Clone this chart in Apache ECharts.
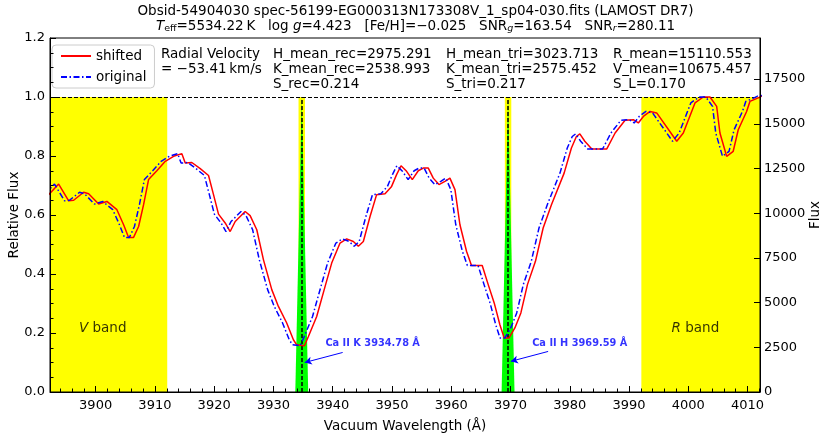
<!DOCTYPE html>
<html><head><meta charset="utf-8">
<script src="https://cdn.jsdelivr.net/npm/echarts@6/dist/echarts.min.js"></script>
<style>html,body{margin:0;padding:0;background:#fff}#c{width:831px;height:440px}</style>
</head><body><div id="c"></div>
<script>
// ---- data ----
const waveShifted = [3892.08,3893.76,3895.45,3896.29,3897.98,3898.82,3900.51,3901.90,3903.59,3904.72,
3905.56,3906.40,3907.25,3908.09,3908.93,3910.33,3911.75,3913.15,3914.55,3915.12,
3916.23,3917.65,3919.05,3919.89,3920.73,3921.86,3922.70,3923.55,3925.23,3926.07,
3927.19,3928.32,3929.72,3930.84,3932.24,3933.37,3933.93,3935.23,3935.90,3937.30,
3938.72,3939.83,3941.24,3942.36,3943.49,3944.33,3945.17,3946.30,3947.41,3948.83,
3949.94,3950.78,3951.53,3952.47,3953.43,3954.44,3955.28,3956.13,3956.97,3957.93,
3958.94,3959.78,3960.63,3961.47,3962.58,3963.42,3965.23,3966.24,3967.25,3968.21,
3968.94,3969.73,3970.74,3971.75,3972.86,3974.21,3975.51,3976.91,3979.05,3980.28,
3981.12,3981.70,3982.54,3983.72,3986.25,3987.65,3989.33,3990.73,3991.57,3992.42,
3993.55,3994.67,3998.05,3999.16,4001.13,4002.53,4003.66,4004.79,4005.34,4006.47,
4007.58,4008.43,4009.84,4010.40,4011.80,4012.40,4013.20];
const waveOriginal = [3891.38,3893.06,3894.75,3895.59,3897.28,3898.12,3899.81,3901.20,3902.89,3904.02,
3904.86,3905.70,3906.55,3907.39,3908.23,3909.63,3911.05,3912.45,3913.85,3914.42,
3915.53,3916.95,3918.35,3919.19,3920.03,3921.16,3922.00,3922.85,3924.53,3925.37,
3926.49,3927.62,3929.02,3930.14,3931.54,3932.67,3933.23,3934.53,3935.20,3936.60,
3938.02,3939.13,3940.54,3941.66,3942.79,3943.63,3944.47,3945.60,3946.71,3948.13,
3949.24,3950.08,3950.83,3951.77,3952.73,3953.74,3954.58,3955.43,3956.27,3957.23,
3958.24,3959.08,3959.93,3960.77,3961.88,3962.72,3964.53,3965.54,3966.55,3967.51,
3968.24,3969.03,3970.04,3971.05,3972.16,3973.51,3974.81,3976.21,3978.35,3979.58,
3980.42,3981.00,3981.84,3983.02,3985.55,3986.95,3988.63,3990.03,3990.87,3991.72,
3992.85,3993.97,3997.35,3998.46,4000.43,4001.83,4002.96,4004.09,4004.64,4005.77,
4006.88,4007.73,4009.14,4009.70,4011.10,4011.70,4012.50];
const fluxNorm = [0.669,0.705,0.648,0.650,0.677,0.672,0.637,0.646,0.618,0.567,
0.524,0.524,0.561,0.635,0.720,0.750,0.782,0.799,0.808,0.776,
0.778,0.757,0.734,0.669,0.603,0.573,0.544,0.578,0.612,0.598,
0.550,0.448,0.347,0.290,0.234,0.177,0.160,0.157,0.188,0.256,
0.358,0.437,0.505,0.519,0.510,0.494,0.510,0.595,0.669,0.672,
0.697,0.737,0.767,0.748,0.720,0.750,0.759,0.759,0.725,0.703,
0.714,0.725,0.686,0.567,0.477,0.429,0.429,0.364,0.302,0.228,
0.183,0.183,0.217,0.268,0.364,0.443,0.556,0.635,0.742,0.827,
0.866,0.875,0.850,0.824,0.824,0.878,0.921,0.923,0.912,0.934,
0.951,0.946,0.850,0.878,0.980,1.000,1.000,0.968,0.878,0.799,
0.816,0.889,0.951,0.985,0.997,1.003,1.005];

const xRange = [3892.3, 4012.1];
const yRange = [0, 1.2];
const yStep = 0.2;
const fluxRange = [0, 19800];
const fluxStep = 2500;
const vBand = [3892.08, 3912.08];
const rBand = [3992.08, 4012.2];
const lineCenters = [3934.78, 3969.59];
const lineFWHM = 1.09;
const lineLabels = ['Ca II K 3934.78 Å', 'Ca II H 3969.59 Å'];
const lineLabelPos = [[3938.77, 0.163], [3973.66, 0.163]];
const arrowFrom = [[3941.68, 0.134], [3976.35, 0.1375]];
const arrowTo = [[3935.28, 0.100], [3970.07, 0.104]];
const bandNames = ['V', 'R'];
const bandLabelPos = [[3901.2, 0.215], [4001.2, 0.215]];
const titleLine1 = 'Obsid-54904030 spec-56199-EG000313N173308V_1_sp04-030.fits (LAMOST DR7)';
const statColumns = [
  'Radial Velocity\n= −53.41\u2009km/s',
  'H_mean_rec=2975.291\nK_mean_rec=2538.993\nS_rec=0.214',
  'H_mean_tri=3023.713\nK_mean_tri=2575.452\nS_tri=0.217',
  'R_mean=15110.553\nV_mean=10675.457\nS_L=0.170'
];
const statColumnX = [161, 273, 446, 613];

// ---- chart ----
const FONT = '"DejaVu Sans", sans-serif';
const FS = 13.5;
const chart = echarts.init(document.getElementById('c'));

const shiftedData = waveShifted.map((w, i) => [w, fluxNorm[i]]);
const originalData = waveOriginal.map((w, i) => [w, fluxNorm[i]]);

const triSeries = lineCenters.map(c => ({
  type: 'line', silent: true, z: 2, symbol: 'none',
  data: [[c - lineFWHM, 0], [c, 1], [c + lineFWHM, 0]],
  lineStyle: { width: 0, color: '#00ff00' },
  areaStyle: { color: '#00ff00', opacity: 1 }
}));

const option = {
  animation: false,
  backgroundColor: '#fff',
  title: {
    left: 'center', top: 4, padding: 0,
    text: titleLine1 + '\n{i|T}{s|eff}=5534.22\u2009K   log {i|g}=4.423   [Fe/H]=−0.025   SNR{si|g}=163.54   SNR{si|r}=280.11',
    textStyle: {
      fontFamily: FONT, fontSize: FS, fontWeight: 'normal', color: '#000', lineHeight: 15,
      rich: {
        i: { fontFamily: FONT, fontSize: FS, fontStyle: 'italic', color: '#000', lineHeight: 15 },
        s: { fontFamily: FONT, fontSize: 9.5, color: '#000', verticalAlign: 'bottom', lineHeight: 7 },
        si: { fontFamily: FONT, fontSize: 9.5, fontStyle: 'italic', color: '#000', verticalAlign: 'bottom', lineHeight: 7 }
      }
    }
  },
  legend: {
    left: 52, top: 45, orient: 'vertical',
    data: ['shifted', 'original'],
    itemWidth: 30, itemHeight: 14, itemGap: 7,
    padding: [4, 8, 4, 8],
    itemStyle: { opacity: 0, borderWidth: 0 },
    backgroundColor: '#fff', borderColor: '#cccccc', borderWidth: 1, borderRadius: 4,
    textStyle: { fontFamily: FONT, fontSize: FS, color: '#000' }
  },
  graphic: statColumns.map((t, i) => ({
    type: 'text', x: statColumnX[i], y: 47, z: 100,
    style: { text: t, fontFamily: FONT, fontSize: FS, lineHeight: 15, fill: '#000', verticalAlign: 'top' }
  })),
  grid: { left: 50, right: 71, top: 38, bottom: 48, outerBoundsMode: 'none', containLabel: false, show: true, borderColor: '#000', borderWidth: 1, backgroundColor: 'transparent', z: 10 },
  xAxis: {
    type: 'value', min: xRange[0], max: xRange[1], splitNumber: 12, z: 10,
    name: 'Vacuum Wavelength (Å)', nameLocation: 'middle', nameGap: 27,
    nameTextStyle: { fontFamily: FONT, fontSize: FS, color: '#000' },
    axisLine: { show: true, lineStyle: { color: '#000', width: 1 } },
    axisTick: { show: true, inside: true, length: 6, lineStyle: { color: '#000' } },
    minorTick: { show: true, splitNumber: 5, length: 3.5, lineStyle: { color: '#000' } },
    axisLabel: { fontFamily: FONT, fontSize: 13, color: '#000', margin: 7, showMinLabel: false, showMaxLabel: false, formatter: v => String(v) },
    splitLine: { show: false }, minorSplitLine: { show: false }
  },
  yAxis: [{
    type: 'value', min: yRange[0], max: yRange[1], interval: yStep, z: 10,
    name: 'Relative Flux', nameLocation: 'middle', nameGap: 29, nameRotate: 90, nameMoveOverlap: false,
    nameTextStyle: { fontFamily: FONT, fontSize: FS, color: '#000' },
    axisLine: { show: true, lineStyle: { color: '#000', width: 1 } },
    axisTick: { show: true, inside: true, length: 6, lineStyle: { color: '#000' } },
    minorTick: { show: true, splitNumber: 4, length: 3.5, lineStyle: { color: '#000' } },
    axisLabel: { fontFamily: FONT, fontSize: 13, color: '#000', margin: 5, formatter: v => v.toFixed(1) },
    splitLine: { show: false }
  }, {
    type: 'value', position: 'right', min: fluxRange[0], max: fluxRange[1], interval: fluxStep, z: 10,
    name: 'Flux', nameLocation: 'middle', nameGap: 48, nameRotate: 90, nameMoveOverlap: false,
    nameTextStyle: { fontFamily: FONT, fontSize: FS, color: '#000' },
    axisLine: { show: true, lineStyle: { color: '#000', width: 1 } },
    axisTick: { show: true, inside: true, length: 6, lineStyle: { color: '#000' } },
    axisLabel: { fontFamily: FONT, fontSize: 13, color: '#000', margin: 4, showMaxLabel: false, formatter: v => String(v) },
    splitLine: { show: false }
  }],
  series: [
    { // V and R bands
      type: 'line', data: [], silent: true, z: 1,
      markArea: {
        silent: true, itemStyle: { color: '#ffff00', opacity: 1 },
        data: [
          [{ coord: [Math.max(vBand[0], xRange[0]), 0] }, { coord: [vBand[1], 1] }],
          [{ coord: [rBand[0], 0] }, { coord: [Math.min(rBand[1], xRange[1]), 1] }]
        ]
      }
    },
    ...triSeries,
    { // rectangular bandpasses
      type: 'line', data: [], silent: true, z: 3,
      markArea: {
        silent: true, itemStyle: { color: '#ffff00', opacity: 1 },
        data: lineCenters.map(c => [{ coord: [c - lineFWHM / 2, 0] }, { coord: [c + lineFWHM / 2, 1] }])
      }
    },
    { // dashed reference lines
      type: 'line', data: [], silent: true, z: 4,
      markLine: {
        silent: true, symbol: 'none', label: { show: false },
        lineStyle: { color: '#000', width: 1.2, type: [4, 2] },
        data: [
          [{ coord: [xRange[0], 1] }, { coord: [xRange[1], 1] }],
          ...lineCenters.map(c => [{ coord: [c, 0], lineStyle: { width: 1.5 } }, { coord: [c, 1] }])
        ]
      }
    },
    {
      name: 'shifted', type: 'line', data: shiftedData, symbol: 'none', z: 5,
      lineStyle: { color: '#ff0000', width: 1.5 }, itemStyle: { color: '#ff0000' }
    },
    {
      name: 'original', type: 'line', data: originalData, symbol: 'none', z: 6,
      lineStyle: { color: '#0000ff', width: 1.5, type: [6, 2.5, 1.5, 2.5] }, itemStyle: { color: '#0000ff' }
    },
    { // arrows
      type: 'line', data: [], silent: true, z: 7,
      markLine: {
        silent: true, symbol: ['none', 'arrow'], symbolSize: [6, 7], label: { show: false },
        lineStyle: { color: '#0000ff', width: 1, type: 'solid' },
        data: arrowFrom.map((p, i) => [{ coord: p }, { coord: arrowTo[i] }])
      }
    },
    { // Ca labels
      type: 'scatter', silent: true, z: 8, symbolSize: 0,
      data: lineLabelPos.map((p, i) => [p[0], p[1], lineLabels[i]]),
      label: {
        show: true, position: 'right', distance: 0,
        formatter: d => d.value[2],
        fontFamily: FONT, fontSize: 9.8, fontWeight: 'bold', color: '#0000ff'
      }
    },
    { // band labels
      type: 'scatter', silent: true, z: 8, symbolSize: 0,
      data: bandLabelPos.map((p, i) => [p[0], p[1], bandNames[i]]),
      label: {
        show: true, position: 'inside',
        formatter: d => '{i|' + d.value[2] + '} band',
        fontFamily: FONT, fontSize: FS, color: '#000',
        rich: { i: { fontFamily: FONT, fontSize: FS, fontStyle: 'italic', color: '#000' } }
      }
    }
  ]
};
chart.setOption(option);
</script></body></html>
